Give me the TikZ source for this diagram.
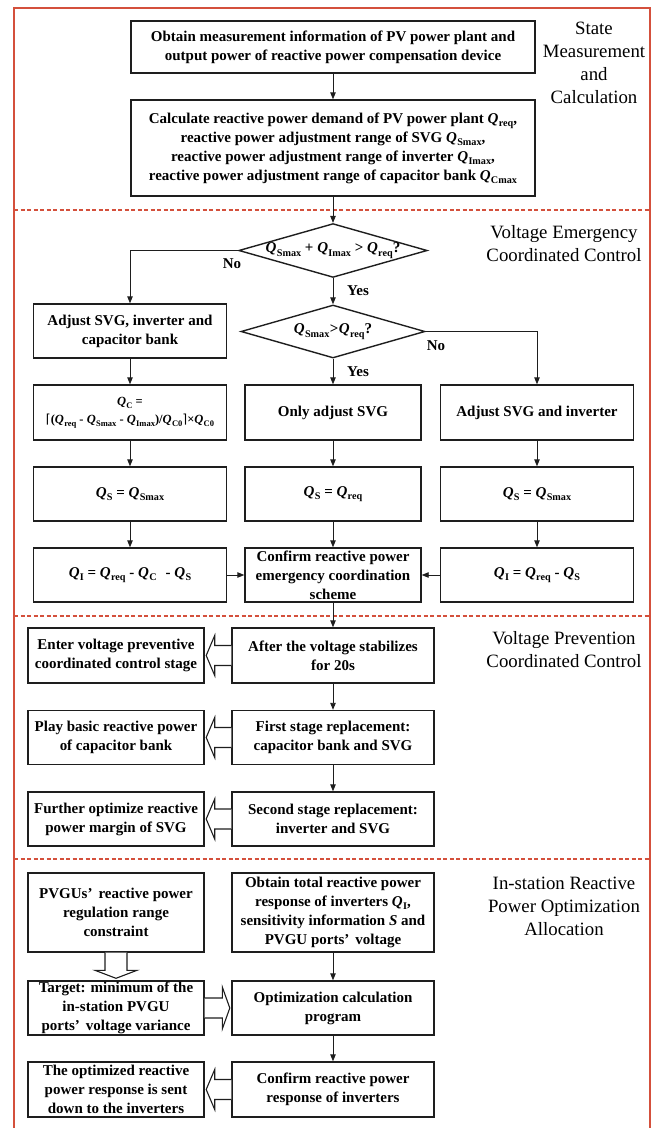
\documentclass[tikz,border=0pt]{standalone}
\usepackage{fontspec}
\setmainfont{Liberation Serif}
\newfontfamily\djv{DejaVu Sans}
\usetikzlibrary{arrows.meta,shapes.geometric,calc}
\definecolor{redline}{RGB}{212,80,60}
\definecolor{boxline}{RGB}{30,30,30}
\newcommand\Q[1]{\textit{Q}\kern0.3pt\raisebox{-0.22em}{\scalebox{0.68}{#1}}}
\newcommand\blockleft[2]{\draw[barrow] let \p1=(#1.west), \p2=(#2.east) in
  (\x1,\y1+10pt) -- (\x2+10pt,\y1+10pt) -- (\x2+10pt,\y1+20pt) -- (\x2+1.5pt,\y1)
  -- (\x2+10pt,\y1-20pt) -- (\x2+10pt,\y1-10pt) -- (\x1,\y1-10pt);}
\newcommand\blockright[2]{\draw[barrow] let \p1=(#1.east), \p2=(#2.west) in
  (\x1,\y1+10pt) -- (\x2-9pt,\y1+10pt) -- (\x2-9pt,\y1+21pt) -- (\x2-1.5pt,\y1)
  -- (\x2-9pt,\y1-21pt) -- (\x2-9pt,\y1-10pt) -- (\x1,\y1-10pt);}
\newcommand\blockdown[2]{\draw[barrow] let \p1=(#1.south), \p2=(#2.north) in
  (\x1-11pt,\y1) -- (\x1-11pt,\y2+10pt) -- (\x1-21pt,\y2+10pt) -- (\x1,\y2+2pt)
  -- (\x1+21pt,\y2+10pt) -- (\x1+11pt,\y2+10pt) -- (\x1+11pt,\y1);}
\begin{document}
\begin{tikzpicture}[x=1pt,y=-1pt,
  box/.style={draw=boxline,line width=1.4pt,align=center,inner sep=1pt,
    font=\fontsize{15}{19}\selectfont\bfseries},
  dia/.style={draw=boxline,line width=1.4pt,shape=diamond,aspect=3.5,inner sep=0pt,
    minimum width=184pt,minimum height=53pt,font=\fontsize{15}{19}\selectfont\bfseries},
  arr/.style={draw=boxline,line width=0.9pt,-{Triangle[length=7pt,width=5.5pt]}},
  barrow/.style={draw=boxline,line width=1.1pt,fill=white,line join=miter},
  yn/.style={inner sep=0pt,font=\fontsize{15}{19}\selectfont\bfseries},
  lbl/.style={align=center,inner sep=0pt,font=\fontsize{18.8}{23}\selectfont},
  sep/.style={draw=redline,line width=1.6pt,dash pattern=on 4pt off 2.5pt}]
\useasboundingbox (0,0) rectangle (666,1128);
% frame
\draw[redline,line width=1.2pt] (14,1140) -- (14,8) -- (650,8) -- (650,1140);
\draw[sep] (14,210) -- (650,210);
\draw[sep] (14,616) -- (650,616);
\draw[sep] (14,859) -- (650,859);
% section labels
\node[lbl] (s1) at (594,62.5) {State\\Measurement\\and\\Calculation};
\node[lbl] (s2) at (564,243.5) {Voltage Emergency\\Coordinated Control};
\node[lbl] (s3) at (564,649.5) {Voltage Prevention\\Coordinated Control};
\node[lbl] (s4) at (564,906) {In-station Reactive\\Power Optimization\\Allocation};
% section 1
\node[box,minimum width=404pt,minimum height=52pt] (b1) at (333,47)
  {Obtain measurement information of PV power plant and\\output power of reactive power compensation device};
\node[box,minimum width=404pt,minimum height=96pt] (b2) at (333,148)
  {Calculate reactive power demand of PV power plant \Q{req},\\reactive power adjustment range of SVG \Q{Smax},\\reactive power adjustment range of inverter \Q{Imax},\\reactive power adjustment range of capacitor bank \Q{Cmax}};
% section 2
\node[dia] (d1) at (333,250.5) {\Q{Smax} + \Q{Imax} > \Q{req}?};
\node[dia] (d2) at (333,331.5) {\Q{Smax}\kern0.5pt>\kern0.5pt\Q{req}?};
\node[box,minimum width=193pt,minimum height=54pt] (L0) at (130,331) {Adjust SVG, inverter and\\capacitor bank};
\node[box,minimum width=193pt,minimum height=55pt,font=\fontsize{12.5}{18}\selectfont\bfseries] (L1) at (130,412.5)
  {\Q{C} =\\{\djv\mdseries ⌈}(\Q{req} - \Q{Smax} - \Q{Imax})/\Q{C0}{\djv\mdseries ⌉}×\Q{C0}};
\node[box,minimum width=176pt,minimum height=55pt] (M1) at (333,412.5) {Only adjust SVG};
\node[box,minimum width=193pt,minimum height=55pt] (R1) at (537,412.5) {Adjust SVG and inverter};
\node[box,minimum width=193pt,minimum height=54pt] (L2) at (130,494) {\Q{S} = \Q{Smax}};
\node[box,minimum width=176pt,minimum height=54pt] (M2) at (333,494) {\Q{S} = \Q{req}};
\node[box,minimum width=193pt,minimum height=54pt] (R2) at (537,494) {\Q{S} = \Q{Smax}};
\node[box,minimum width=193pt,minimum height=54pt] (L3) at (130,575) {\Q{I} = \Q{req} - \Q{C}\hspace{9pt}- \Q{S}};
\node[box,minimum width=176pt,minimum height=54pt] (M3) at (333,575) {Confirm reactive power\\emergency coordination\\scheme};
\node[box,minimum width=193pt,minimum height=54pt] (R3) at (537,575) {\Q{I} = \Q{req} - \Q{S}};
% section 3
\node[box,minimum width=202pt,minimum height=55pt] (P1) at (333,655.5) {After the voltage stabilizes\\for 20s};
\node[box,minimum width=202pt,minimum height=54pt] (P2) at (333,737.5) {First stage replacement:\\capacitor bank and SVG};
\node[box,minimum width=202pt,minimum height=54pt] (P3) at (333,819) {Second stage replacement:\\inverter and SVG};
\node[box,minimum width=176pt,minimum height=55pt] (Q1) at (116,655.5) {Enter voltage preventive\\coordinated control stage};
\node[box,minimum width=176pt,minimum height=54pt] (Q2) at (116,737.5) {Play basic reactive power\\of capacitor bank};
\node[box,minimum width=176pt,minimum height=54pt] (Q3) at (116,819) {Further optimize reactive\\power margin of SVG};
% section 4
\node[box,minimum width=176pt,minimum height=79pt] (BL1) at (116,912.5) {PVGUs’\hspace{6pt}reactive power\\regulation range\\constraint};
\node[box,minimum width=202pt,minimum height=79pt] (BR1) at (333,912.5) {Obtain total reactive power\\response of inverters \Q{I},\\sensitivity information \textit{S} and\\PVGU ports’\hspace{6pt}voltage};
\node[box,minimum width=176pt,minimum height=54pt] (BL2) at (116,1008) {Target: minimum of the\\in-station PVGU\\ports’\hspace{6pt}voltage variance};
\node[box,minimum width=202pt,minimum height=54pt] (BR2) at (333,1008) {Optimization calculation\\program};
\node[box,minimum width=176pt,minimum height=55pt] (BL3) at (116,1089.5) {The optimized reactive\\power response is sent\\down to the inverters};
\node[box,minimum width=202pt,minimum height=55pt] (BR3) at (333,1089.5) {Confirm reactive power\\response of inverters};
% connectors
\draw[arr] (b1) -- (b2);
\draw[arr] (b2) -- (d1);
\draw[arr] (d1.west) -| (L0.north);
\draw[arr] (d1) -- (d2);
\draw[arr] (d2.east) -| (R1.north);
\draw[arr] (d2) -- (M1);
\draw[arr] (L0) -- (L1);
\draw[arr] (L1) -- (L2);
\draw[arr] (L2) -- (L3);
\draw[arr] (M1) -- (M2);
\draw[arr] (M2) -- (M3);
\draw[arr] (R1) -- (R2);
\draw[arr] (R2) -- (R3);
\draw[arr] (L3) -- (M3);
\draw[arr] (R3) -- (M3);
\draw[arr] (M3) -- (P1);
\draw[arr] (P1) -- (P2);
\draw[arr] (P2) -- (P3);
\draw[arr] (BR1) -- (BR2);
\draw[arr] (BR2) -- (BR3);
\blockleft{P1}{Q1}
\blockleft{P2}{Q2}
\blockleft{P3}{Q3}
\blockdown{BL1}{BL2}
\blockright{BL2}{BR2}
\blockleft{BR3}{BL3}
% yes/no labels
\node[yn] (n1) at (232,264) {No};
\node[yn] (y1) at (358,291) {Yes};
\node[yn] (n2) at (436,346) {No};
\node[yn] (y2) at (358,372) {Yes};
\end{tikzpicture}
\end{document}
